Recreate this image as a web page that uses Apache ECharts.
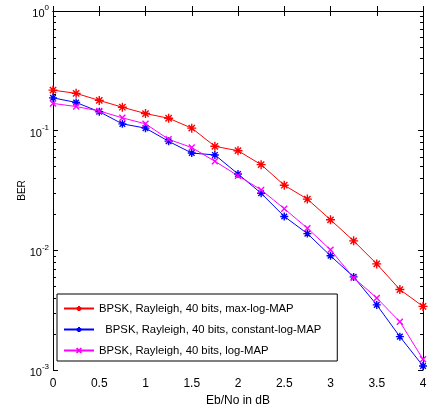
<!DOCTYPE html>
<html>
<head>
<meta charset="utf-8">
<script src="https://cdn.jsdelivr.net/npm/echarts@6/dist/echarts.min.js"></script>
<style>
  html, body { margin: 0; padding: 0; background: #fff; }
  #chart { width: 429px; height: 404px; }
</style>
</head>
<body>
<div id="chart"></div>
<script>
// Eb/No points (dB) and BER curves
const ebno = [0, 0.25, 0.5, 0.75, 1, 1.25, 1.5, 1.75, 2, 2.25, 2.5, 2.75, 3, 3.25, 3.5, 3.75, 4]
const maxLogMap = [0.218, 0.205, 0.179, 0.157, 0.139, 0.127, 0.105, 0.074, 0.068, 0.052, 0.035, 0.0268, 0.018, 0.012, 0.0077, 0.0047, 0.0034]
const constLogMap = [0.188, 0.172, 0.144, 0.114, 0.105, 0.0815, 0.065, 0.0627, 0.0435, 0.030, 0.0192, 0.0138, 0.009, 0.006, 0.0035, 0.0019, 0.00108]
const logMap = [0.169, 0.159, 0.146, 0.128, 0.114, 0.0847, 0.0722, 0.0555, 0.042, 0.032, 0.0223, 0.0153, 0.0101, 0.0059, 0.0040, 0.00253, 0.00123]

const seriesNames = [
  'BPSK, Rayleigh, 40 bits, max-log-MAP',
  '  BPSK, Rayleigh, 40 bits, constant-log-MAP',
  'BPSK, Rayleigh, 40 bits, log-MAP',
]
// decade exponents for ticks (minor ticks at 2..9 of each decade)
const decades = [-3, -2, -1, 0]
const minorExp = []
for (let e = -3; e < 0; e++) for (let m = 2; m <= 9; m++) minorExp.push(e + Math.log10(m))

const star = 'path://M5,0L5,10M0,5L10,5M1.5,1.5L8.5,8.5M1.5,8.5L8.5,1.5'
const cross = 'path://M0,0L10,10M0,10L10,0'
const font = 'Liberation Sans, Arial, sans-serif'

const chart = echarts.init(document.getElementById('chart'))

function pairs(ys) { return ebno.map((x, i) => [x, ys[i]]) }

function line(name, ys, color, symbol, size) {
  return {
    name, type: 'line', data: pairs(ys),
    symbol, symbolSize: size,
    lineStyle: { color, width: 1 },
    itemStyle: { color, borderColor: color, borderWidth: 1.4 },
    emphasis: { disabled: true },
  }
}

// tick-only axes in exponent space
function tickAxis(position, values, length, showLine) {
  return {
    type: 'value', min: -3, max: 0, position,
    axisLine: { show: showLine, lineStyle: { color: '#000', width: 1 } },
    axisTick: { show: true, inside: true, length, customValues: values, lineStyle: { color: '#000' } },
    axisLabel: { show: false },
    splitLine: { show: false },
  }
}

chart.setOption({
  animation: false,
  grid: { left: 53, right: 6, top: 11, bottom: 34, containLabel: false, outerBoundsMode: 'none' },
  xAxis: [{
    type: 'value', min: 0, max: 4, interval: 0.5,
    name: 'Eb/No in dB', nameLocation: 'middle', nameGap: 22,
    nameTextStyle: { color: '#000', fontFamily: font, fontSize: 12 },
    axisLine: { lineStyle: { color: '#000', width: 1 } },
    axisTick: { inside: true, length: 5, lineStyle: { color: '#000' } },
    axisLabel: { color: '#000', fontFamily: font, fontSize: 12, margin: 8 },
    splitLine: { show: false },
  }, {
    type: 'value', min: 0, max: 4, interval: 0.5, position: 'top',
    axisLine: { lineStyle: { color: '#000', width: 1 } },
    axisTick: { inside: true, length: 5, lineStyle: { color: '#000' } },
    axisLabel: { show: false },
    splitLine: { show: false },
  }],
  yAxis: [{
    type: 'log', min: 0.001, max: 1, logBase: 10,
    name: 'BER', nameLocation: 'middle', nameGap: 26, nameRotate: 90, nameMoveOverlap: false,
    nameTextStyle: { color: '#000', fontFamily: font, fontSize: 10 },
    axisLine: { lineStyle: { color: '#000', width: 1 } },
    axisTick: { inside: true, length: 5, lineStyle: { color: '#000' } },
    axisLabel: {
      margin: 4,
      formatter: v => '{b|10}{s|' + Math.round(Math.log10(v)) + '}',
      rich: {
        b: { color: '#000', fontFamily: font, fontSize: 11, padding: [6, 0, 0, 0] },
        s: { color: '#000', fontFamily: font, fontSize: 8, padding: [0, 0, 6, 0] },
      },
    },
    splitLine: { show: false },
  },
  tickAxis('left', minorExp, 3, false),
  tickAxis('right', decades, 5, true),
  tickAxis('right', minorExp, 3, false),
  ],
  legend: {
    orient: 'vertical', left: 57, top: 294,
    padding: [8, 16, 4, 6], itemGap: 8,
    itemWidth: 30, itemHeight: 6,
    backgroundColor: '#fff', borderColor: '#000', borderWidth: 1,
    textStyle: { color: '#000', fontFamily: font, fontSize: 11.3, lineHeight: 13 },
    selectedMode: false,
    data: seriesNames,
  },
  series: [
    line(seriesNames[0], maxLogMap, '#ff0000', star, 9),
    line(seriesNames[1], constLogMap, '#0000ff', star, 8),
    line(seriesNames[2], logMap, '#ff00ff', cross, 6),
  ],
})
</script>
</body>
</html>
